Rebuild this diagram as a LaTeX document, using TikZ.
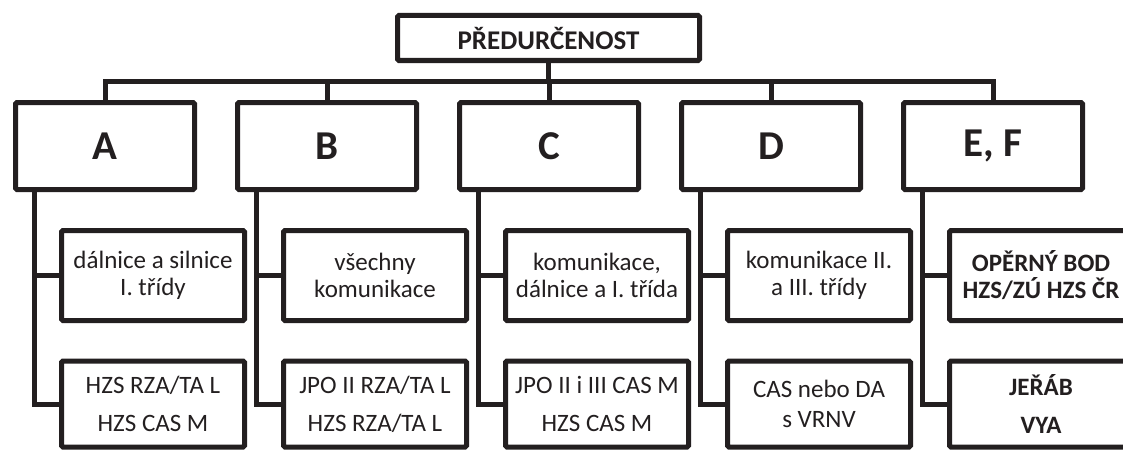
\documentclass[tikz,border=0pt]{standalone}
\usepackage{fontspec}
\setmainfont{Carlito}
\definecolor{ink}{HTML}{231F20}
\begin{document}
\begin{tikzpicture}[x=1pt,y=-1pt,
  line width=5pt, draw=ink, text=ink,
  every node/.style={inner sep=0pt, outer sep=0pt},
  box/.style={draw=ink, rounded corners=1.5pt, line width=5pt},
  topbox/.style={box, minimum width=302pt, minimum height=45pt, font=\bfseries\fontsize{27}{30}\selectfont},
  catbox/.style={box, minimum width=179pt, minimum height=87pt, font=\bfseries\fontsize{41}{44}\selectfont},
  upbox/.style={box, minimum width=183pt, minimum height=90pt, align=center, font=\fontsize{25}{27}\selectfont},
  lowbox/.style={box, minimum width=183pt, minimum height=86pt, align=center, font=\fontsize{25}{38}\selectfont},
  conn/.style={draw=ink, line width=5pt}]
\useasboundingbox (0,0) rectangle (1123,452);
\fill[white] (0,0) rectangle (1123,452);

\node[topbox] (top) at (548.5,38) {PŘEDURČENOST};
\coordinate (bus) at (0,81);

\node[catbox] (A) at (105,146) {A};
\node[catbox] (B) at (327,146) {B};
\node[catbox] (C) at (549,146) {C};
\node[catbox] (D) at (771,146) {D};
\node[catbox] (E) at (993,146) {E, F};

\node[upbox] (A1) at (153,275.5) {dálnice a silnice\\I. třídy};
\node[upbox] (B1) at (375,275.5) {všechny\\komunikace};
\node[upbox] (C1) at (597,275.5) {komunikace,\\dálnice a I. třída};
\node[upbox] (D1) at (819,275.5) {komunikace II.\\a III. třídy};
\node[upbox, font=\bfseries\fontsize{25}{27}\selectfont] (E1) at (1041,275.5) {OPĚRNÝ BOD\\HZS/ZÚ HZS ČR};

\node[lowbox] (A2) at (153,404) {HZS RZA/TA L\\HZS CAS M};
\node[lowbox] (B2) at (375,404) {JPO II RZA/TA L\\HZS RZA/TA L};
\node[lowbox] (C2) at (597,404) {JPO II i III CAS M\\HZS CAS M};
\node[lowbox, font=\fontsize{25}{30}\selectfont] (D2) at (819,404) {CAS nebo DA\\s VRNV};
\node[lowbox, font=\bfseries\fontsize{25}{38}\selectfont] (E2) at (1041,404) {JEŘÁB\\VYA};

% top connectors
\draw[conn] (top.south) -- (top.south |- bus);
\draw[conn] (A.north) -- (A.north |- bus) -- (E.north |- bus) -- (E.north);
\foreach \n in {B,C,D} \draw[conn] (\n.north) -- (\n.north |- bus);

% branch connectors
\foreach \n in {A,B,C,D,E} {
  \coordinate (\n s) at ([xshift=-71pt]\n.south);
  \draw[conn] (\n s) -- (\n s |- \n2.west) -- (\n2.west);
  \draw[conn] (\n s |- \n1.west) -- (\n1.west);
}
\end{tikzpicture}
\end{document}
